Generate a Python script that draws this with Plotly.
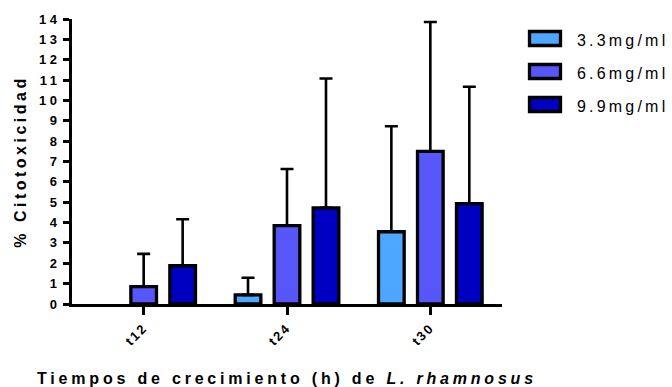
import plotly.graph_objects as go

categories = ["t12", "t24", "t30"]
series_names = ["3.3mg/ml", "6.6mg/ml", "9.9mg/ml"]
means_33 = [None, 0.45, 3.55]
means_66 = [0.85, 3.85, 7.5]
means_99 = [1.88, 4.72, 4.93]
err_33 = [None, 0.84, 5.18]
err_66 = [1.61, 2.78, 6.35]
err_99 = [2.28, 6.36, 5.74]
y_ticks = list(range(0, 15))
colors = ["#4DA6FF", "#5656FA", "#0000C2"]

means = [means_33, means_66, means_99]
errs = [err_33, err_66, err_99]

FONT = "Liberation Sans, Arial, sans-serif"


def spaced(t, px):
    return f'<span style="letter-spacing:{px}px">{t}</span>'


fig = go.Figure()
for name, m, e, c in zip(series_names, means, errs, colors):
    fig.add_trace(go.Bar(
        x=categories, y=m, name=name, width=0.179,
        marker=dict(color=c, line=dict(color="black", width=3.3)),
        error_y=dict(type="data", array=e, arrayminus=[0] * len(e), symmetric=False,
                     color="black", thickness=2.6, width=6.5),
        showlegend=False,
    ))

# manual legend (large swatches)
L, W_PLOT = 72, 430
T, H_PLOT = 19, 285


def px_x(px):
    return (px - L) / W_PLOT


def px_y(py):
    return 1 - (py - T) / H_PLOT


shapes = []
annotations = []
for i, (name, c) in enumerate(zip(series_names, colors)):
    cy = 38.5 + 33 * i
    shapes.append(dict(type="rect", xref="paper", yref="paper",
                       x0=px_x(529.5), x1=px_x(560.5), y0=px_y(cy - 7), y1=px_y(cy + 7),
                       fillcolor=c, line=dict(color="black", width=3.3)))
    annotations.append(dict(xref="paper", yref="paper", x=px_x(575), y=px_y(cy + 1.5),
                            xanchor="left", yanchor="middle", showarrow=False,
                            text=spaced(name, 3.2),
                            font=dict(family=FONT, size=16, color="black")))

fig.update_layout(
    width=672, height=387,
    margin=dict(l=L, r=672 - L - W_PLOT, t=T, b=387 - T - H_PLOT),
    paper_bgcolor="white", plot_bgcolor="white",
    barmode="group", bargap=0.184, bargroupgap=0,
    shapes=shapes, annotations=annotations,
    font=dict(family=FONT, color="black"),
)
fig.update_xaxes(
    range=[-0.5, 2.5], showgrid=False, zeroline=False, automargin=False,
    showline=True, linecolor="black", linewidth=3,
    ticks="outside", ticklen=8, tickwidth=3, tickcolor="black",
    tickangle=-45, tickmode="array", tickvals=categories,
    ticktext=[spaced(f"<b>{c}</b>", 2) for c in categories],
    tickfont=dict(family=FONT, size=13, color="black"),
    title=dict(text=spaced("<b>Tiempos de crecimiento (h) de <i>L. rhamnosus</i></b>", 3.8),
               font=dict(family=FONT, size=16, color="black"), standoff=27),
)
fig.update_yaxes(
    range=[0, 14], showgrid=False, zeroline=False, automargin=False,
    showline=True, linecolor="black", linewidth=3,
    ticks="outside", ticklen=6, tickwidth=3, tickcolor="black",
    tickmode="array", tickvals=y_ticks,
    ticktext=[spaced(f"<b>{v}</b>", 3.5) for v in y_ticks],
    tickfont=dict(family=FONT, size=13, color="black"),
    title=dict(text=spaced("<b>% Citotoxicidad</b>", 3.5),
               font=dict(family=FONT, size=16, color="black"), standoff=9),
)

fig.write_html("out.html")
